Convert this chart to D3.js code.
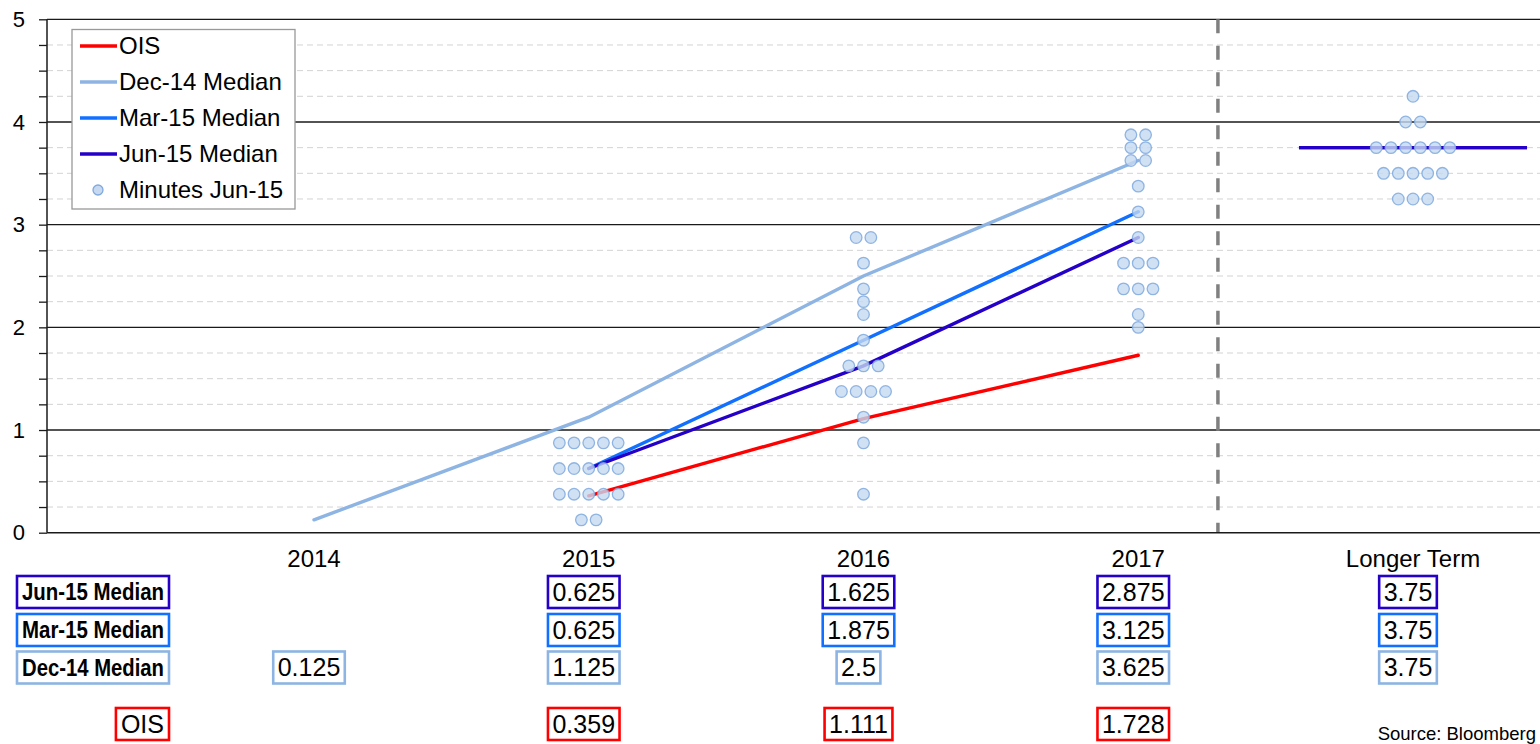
<!DOCTYPE html>
<html>
<head>
<meta charset="utf-8">
<script src="https://cdn.jsdelivr.net/npm/d3@7"></script>
<style>
  body { margin: 0; background: #fff; }
  svg { display: block; font-family: "Liberation Sans", Arial, sans-serif; }
</style>
</head>
<body>
<div id="chart"></div>
<script>
// categories and series
var categories = ["2014", "2015", "2016", "2017", "Longer Term"];
var oisValues = [null, 0.359, 1.111, 1.728, null];
var dec14Median = [0.125, 1.125, 2.5, 3.625, 3.75];
var mar15Median = [null, 0.625, 1.875, 3.125, 3.75];
var jun15Median = [null, 0.625, 1.625, 2.875, 3.75];

// FOMC dots (minutes Jun-15), one value per participant
var minutes2015 = [0.875, 0.875, 0.875, 0.875, 0.875, 0.625, 0.625, 0.625, 0.625, 0.625,
                   0.375, 0.375, 0.375, 0.375, 0.375, 0.125, 0.125];
var minutes2016 = [2.875, 2.875, 2.625, 2.375, 2.25, 2.125, 1.875, 1.625, 1.625, 1.625,
                   1.375, 1.375, 1.375, 1.375, 1.125, 0.875, 0.375];
var minutes2017 = [3.875, 3.875, 3.75, 3.75, 3.625, 3.625, 3.375, 3.125, 2.875,
                   2.625, 2.625, 2.625, 2.375, 2.375, 2.375, 2.125, 2.0];
var minutesLonger = [4.25, 4.0, 4.0, 3.75, 3.75, 3.75, 3.75, 3.75, 3.75,
                     3.5, 3.5, 3.5, 3.5, 3.5, 3.25, 3.25, 3.25];
var minutesByCat = [[], minutes2015, minutes2016, minutes2017, minutesLonger];

var yTicks = d3.range(0, 5.01, 0.25);

var svgWidth = 1540;
var svgHeight = 744;
var plotLeft = 47, plotRight = 1545, plotTop = 19.3, plotBottom = 532.7;

var colors = {
    ois: "#ff0000",
    dec: "#8db4e2",
    mar: "#1170ff",
    jun: "#2400c8",
    dotFill: "#c6d9f1",
    dotStroke: "#7fa9de"
};

var svg = d3.select("#chart").append("svg")
    .attr("width", svgWidth)
    .attr("height", svgHeight);

var x = d3.scaleLinear().domain([0, 4]).range([314, 1413]);
var y = d3.scaleLinear().domain([0, 5]).range([plotBottom, plotTop]);

// minor dashed grid
svg.append("g")
    .selectAll("line")
    .data(yTicks.filter(d => d % 1 !== 0))
    .enter().append("line")
    .attr("x1", plotLeft).attr("x2", plotRight)
    .attr("y1", d => y(d)).attr("y2", d => y(d))
    .attr("stroke", "#d3d3d3")
    .attr("stroke-width", 1)
    .attr("stroke-dasharray", "6,4");

// major grid
svg.append("g")
    .selectAll("line")
    .data(yTicks.filter(d => d % 1 === 0 && d > 0))
    .enter().append("line")
    .attr("x1", plotLeft).attr("x2", plotRight)
    .attr("y1", d => y(d)).attr("y2", d => y(d))
    .attr("stroke", "#1a1a1a")
    .attr("stroke-width", 1.3);

// separator before longer term
svg.append("line")
    .attr("x1", x(3.29)).attr("x2", x(3.29))
    .attr("y1", plotTop).attr("y2", plotBottom)
    .attr("stroke", "#808080")
    .attr("stroke-width", 3.5)
    .attr("stroke-dasharray", "14,12.5");

// y axis
var yAxis = d3.axisLeft(y)
    .tickValues(yTicks)
    .tickSize(8)
    .tickFormat(d => d % 1 === 0 ? d : "");
var yAxisG = svg.append("g")
    .attr("transform", `translate(${plotLeft},0)`)
    .call(yAxis);
yAxisG.select(".domain").attr("stroke", "#1a1a1a").attr("stroke-width", 1.5)
    .attr("d", `M0,${plotTop}V${plotBottom}`);
yAxisG.selectAll(".tick line").attr("stroke", "#1a1a1a").attr("stroke-width", 1.3);
yAxisG.selectAll(".tick text")
    .attr("x", -22)
    .attr("font-size", 22)
    .attr("font-family", "Liberation Sans, Arial, sans-serif")
    .attr("fill", "#000");

// x axis line
svg.append("line")
    .attr("x1", plotLeft).attr("x2", plotRight)
    .attr("y1", plotBottom).attr("y2", plotBottom)
    .attr("stroke", "#1a1a1a")
    .attr("stroke-width", 1.5);

// category labels
svg.append("g")
    .selectAll("text")
    .data(categories)
    .enter().append("text")
    .attr("x", (d, i) => x(i))
    .attr("y", 567)
    .attr("text-anchor", "middle")
    .attr("font-size", 24)
    .text(d => d);

// median / OIS lines over the calendar years
var line = d3.line()
    .defined(d => d.v !== null)
    .x(d => x(d.i))
    .y(d => y(d.v));

var series = [
    { key: "dec", values: dec14Median },
    { key: "mar", values: mar15Median },
    { key: "jun", values: jun15Median },
    { key: "ois", values: oisValues }
];

series.forEach(function (s) {
    var pts = s.values.slice(0, 4).map((v, i) => ({ i: i, v: v }));
    svg.append("path")
        .datum(pts)
        .attr("d", line)
        .attr("fill", "none")
        .attr("stroke", colors[s.key])
        .attr("stroke-width", 3.4)
        .attr("stroke-linecap", "round");
    // longer-term median shown as a flat bar
    if (s.values[4] !== null) {
        svg.append("line")
            .attr("x1", x(4 - 0.415)).attr("x2", x(4 + 0.415))
            .attr("y1", y(s.values[4])).attr("y2", y(s.values[4]))
            .attr("stroke", colors[s.key])
            .attr("stroke-width", 3.4);
    }
});

// dots
var dotStep = 14.7;
var dotData = [];
minutesByCat.forEach(function (vals, ci) {
    var groups = d3.groups(vals, v => v);
    groups.forEach(function (g) {
        var n = g[1].length;
        g[1].forEach(function (v, k) {
            dotData.push({ ci: ci, v: v, off: (k - (n - 1) / 2) * dotStep });
        });
    });
});

svg.append("g")
    .selectAll("circle")
    .data(dotData)
    .enter().append("circle")
    .attr("cx", d => x(d.ci) + d.off)
    .attr("cy", d => y(d.v))
    .attr("r", 5.8)
    .attr("fill", colors.dotFill)
    .attr("fill-opacity", 0.8)
    .attr("stroke", colors.dotStroke)
    .attr("stroke-width", 1.3)
    .attr("stroke-opacity", 0.85);

// legend
var legend = svg.append("g");
legend.append("rect")
    .attr("x", 72).attr("y", 29.5)
    .attr("width", 223).attr("height", 179.5)
    .attr("fill", "#fff")
    .attr("stroke", "#999")
    .attr("stroke-width", 1.3);

var legendItems = [
    { label: "OIS", color: colors.ois, type: "line" },
    { label: "Dec-14 Median", color: colors.dec, type: "line" },
    { label: "Mar-15 Median", color: colors.mar, type: "line" },
    { label: "Jun-15 Median", color: colors.jun, type: "line" },
    { label: "Minutes Jun-15", color: colors.dotFill, type: "dot" }
];

legendItems.forEach(function (d, i) {
    var ly = 46 + i * 36;
    if (d.type === "line") {
        legend.append("line")
            .attr("x1", 80).attr("x2", 117)
            .attr("y1", ly).attr("y2", ly)
            .attr("stroke", d.color)
            .attr("stroke-width", 3.4);
    } else {
        legend.append("circle")
            .attr("cx", 98).attr("cy", ly)
            .attr("r", 5)
            .attr("fill", colors.dotFill)
            .attr("stroke", colors.dotStroke)
            .attr("stroke-width", 1.3);
    }
    legend.append("text")
        .attr("x", 119)
        .attr("y", ly)
        .attr("dy", "0.35em")
        .attr("font-size", 24)
        .text(d.label);
});

// table below
var table = svg.append("g");

function boxedText(cx, cy, txt, color, anchor, font) {
    var g = table.append("g");
    var rect = g.append("rect");
    var t = g.append("text")
        .attr("x", cx)
        .attr("y", cy)
        .attr("dy", "0.35em")
        .attr("text-anchor", anchor)
        .attr("font-size", font.size)
        .attr("font-weight", font.weight || "normal")
        .text(txt);
    if (font.family) t.attr("font-family", font.family);
    if (font.length) t.attr("textLength", font.length).attr("lengthAdjust", "spacingAndGlyphs");
    var bb = t.node().getBBox();
    var pad = font.pad || 5;
    rect.attr("x", bb.x - pad)
        .attr("y", cy - 16)
        .attr("width", bb.width + 2 * pad)
        .attr("height", 32)
        .attr("fill", "#fff")
        .attr("stroke", color)
        .attr("stroke-width", 2.6);
}

var tableRows = [
    { label: "Jun-15 Median", values: jun15Median, color: colors.jun, cy: 592 },
    { label: "Mar-15 Median", values: mar15Median, color: colors.mar, cy: 630 },
    { label: "Dec-14 Median", values: dec14Median, color: colors.dec, cy: 667.5 },
    { label: "OIS", values: oisValues, color: colors.ois, cy: 724 }
];

var narrow = { size: 24, weight: "bold", family: "Liberation Sans Narrow, Arial Narrow, Liberation Sans, sans-serif", length: 142 };

tableRows.forEach(function (r) {
    if (r.label === "OIS") {
        boxedText(164, r.cy, r.label, r.color, "end", { size: 25 });
    } else {
        boxedText(164, r.cy, r.label, r.color, "end", narrow);
    }
    r.values.forEach(function (v, i) {
        if (v === null) return;
        boxedText(x(i) - 5, r.cy, String(v), r.color, "middle", { size: 25, pad: 4.5 });
    });
});

// source
svg.append("text")
    .attr("x", 1536)
    .attr("y", 740)
    .attr("text-anchor", "end")
    .attr("font-size", 18.5)
    .text("Source: Bloomberg");
</script>
</body>
</html>
